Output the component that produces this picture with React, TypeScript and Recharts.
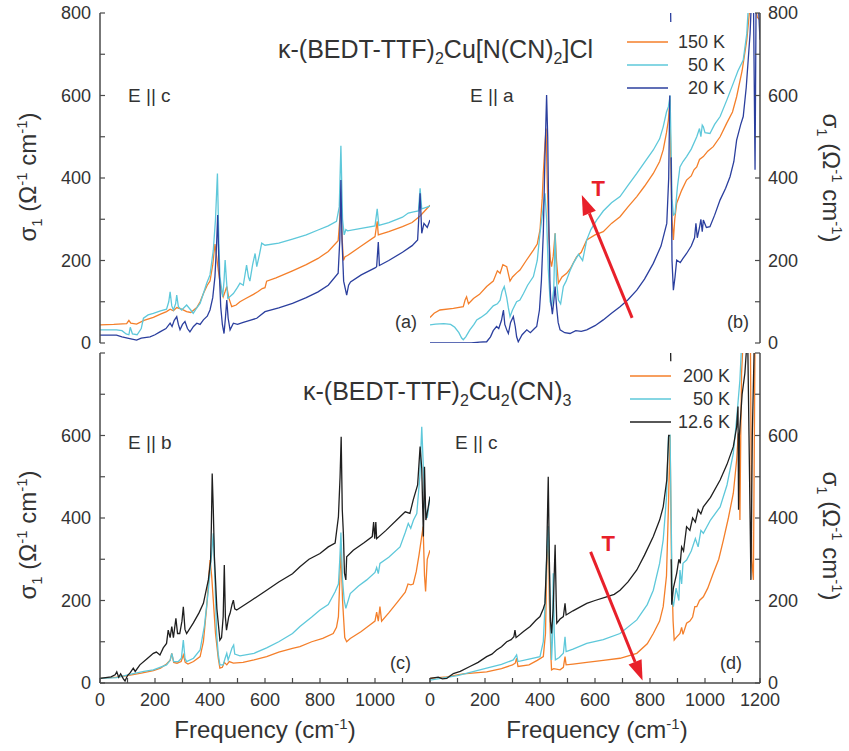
import { LineChart, Line, XAxis, YAxis, ReferenceLine, ReferenceDot } from "recharts";

type Pt = [number, number | null];

const FONT = '"Liberation Sans", Arial, sans-serif';
const INK = "#333";
const AXIS = "#4a4a4a";
const ORANGE = "#f47f2a";
const CYAN = "#5ec8da";
const BLUE = "#2b3f9e";
const BLACK = "#1f1f1f";
const RED = "#e8202a";

const xTicks = [0, 100, 200, 300, 400, 500, 600, 700, 800, 900, 1000, 1100, 1200];
const yTicks = [0, 100, 200, 300, 400, 500, 600, 700, 800];

// (a) Cl salt, E || c
const a150: Pt[] = [
  [0, 44], [50, 45], [97, 47], [105, 55], [112, 48], [133, 46], [160, 55], [194, 62], [220, 70], [242, 76],
  [255, 82], [267, 78], [279, 86], [297, 82], [315, 76], [330, 74], [352, 86], [364, 100], [376, 120], [390, 140],
  [400, 150], [410, 190], [418, 240], [424, 210], [430, 177], [440, 130], [448, 112], [455, 125], [461, 137], [468, 110],
  [479, 88], [495, 92], [509, 100], [530, 108], [558, 118], [575, 125], [590, 132], [600, 134], [606, 150], [640, 158],
  [700, 175], [750, 190], [793, 205], [830, 222], [866, 248], [872, 300], [876, 339], [880, 260], [885, 200], [891, 209],
  [900, 212], [950, 235], [1000, 258], [1008, 295], [1012, 262], [1050, 270], [1100, 282], [1135, 292], [1164, 308], [1200, 334],
];
const a50: Pt[] = [
  [0, 32], [60, 32], [80, 30], [95, 22], [105, 20], [110, 38], [118, 22], [135, 20], [150, 35], [158, 60],
  [175, 68], [194, 72], [220, 78], [242, 82], [250, 100], [255, 124], [261, 90], [267, 80], [275, 95], [279, 116],
  [285, 88], [297, 80], [315, 92], [330, 80], [339, 72], [352, 85], [364, 96], [376, 120], [388, 145], [400, 165],
  [412, 225], [420, 300], [427, 411], [432, 250], [436, 161], [446, 112], [451, 150], [455, 201], [460, 150], [465, 108],
  [485, 120], [500, 135], [509, 145], [521, 140], [533, 189], [540, 160], [545, 150], [555, 190], [564, 217], [570, 185],
  [580, 215], [588, 242], [600, 237], [650, 242], [700, 252], [750, 262], [793, 274], [830, 284], [860, 295], [870, 330],
  [876, 478], [882, 300], [888, 262], [894, 275], [900, 272], [950, 278], [1000, 284], [1008, 325], [1014, 285], [1050, 292],
  [1100, 305], [1121, 315], [1140, 318], [1158, 320], [1164, 375], [1170, 325], [1200, 332],
];
const a20: Pt[] = [
  [0, 19], [60, 19], [80, 15], [100, 12], [133, 7], [150, 12], [182, 15], [200, 20], [218, 27], [240, 35],
  [255, 48], [262, 40], [270, 55], [279, 64], [285, 45], [291, 32], [300, 45], [309, 52], [318, 35], [327, 27],
  [340, 40], [352, 48], [364, 45], [376, 56], [390, 65], [400, 80], [410, 110], [418, 161], [424, 240], [428, 310],
  [432, 200], [439, 88], [445, 45], [451, 23], [456, 60], [461, 104], [466, 60], [473, 32], [485, 48], [500, 45],
  [521, 50], [545, 55], [570, 60], [600, 76], [650, 85], [700, 96], [750, 110], [793, 124], [830, 140], [866, 169],
  [872, 250], [876, 395], [880, 250], [886, 150], [897, 116], [904, 140], [911, 148], [950, 165], [1000, 182], [1006, 185],
  [1012, 245], [1016, 188], [1050, 200], [1100, 220], [1135, 236], [1155, 250], [1164, 363], [1170, 266], [1178, 290], [1190, 280],
  [1200, 298],
];

// (b) Cl salt, E || a
const b150: Pt[] = [
  [0, 62], [15, 72], [36, 80], [85, 84], [121, 88], [128, 105], [133, 112], [140, 95], [158, 108], [180, 118],
  [206, 137], [230, 150], [245, 175], [255, 169], [265, 190], [279, 185], [291, 150], [300, 160], [315, 170], [327, 177],
  [350, 200], [376, 225], [390, 240], [400, 274], [408, 350], [412, 411], [418, 480], [422, 520], [426, 400], [432, 260],
  [438, 200], [442, 185], [448, 210], [455, 266], [460, 200], [467, 145], [480, 160], [497, 169], [510, 180], [533, 209],
  [550, 220], [570, 250], [600, 262], [630, 270], [660, 290], [691, 306], [720, 330], [752, 355], [780, 380], [812, 411],
  [835, 440], [848, 468], [860, 510], [867, 541], [872, 590], [876, 430], [880, 300], [885, 250], [890, 300], [897, 339],
  [915, 370], [933, 395], [950, 405], [960, 420], [970, 427], [980, 445], [994, 452], [1010, 465], [1030, 476], [1055, 500],
  [1079, 533], [1100, 560], [1115, 597], [1135, 660], [1152, 735], [1164, 820], [1180, 830], [1190, 790], [1200, 783],
];
const b50: Pt[] = [
  [0, 44], [20, 46], [50, 47], [75, 45], [90, 38], [105, 25], [115, 12], [121, 8], [130, 15], [145, 32],
  [160, 45], [170, 56], [185, 62], [206, 72], [230, 90], [245, 95], [255, 104], [262, 125], [270, 137], [279, 110],
  [285, 85], [291, 64], [300, 80], [315, 100], [327, 104], [340, 120], [355, 140], [376, 161], [390, 200], [400, 266],
  [410, 320], [418, 363], [424, 300], [430, 180], [437, 100], [442, 88], [450, 130], [455, 266], [460, 150], [467, 104],
  [475, 95], [485, 137], [495, 150], [509, 175], [521, 193], [540, 215], [555, 200], [570, 250], [585, 275], [606, 298],
  [630, 320], [660, 340], [691, 355], [720, 382], [752, 411], [780, 438], [812, 468], [835, 495], [848, 524], [860, 560],
  [867, 573], [873, 600], [876, 500], [880, 350], [885, 310], [891, 314], [900, 380], [909, 427], [920, 440], [933, 452],
  [950, 470], [970, 500], [980, 520], [985, 500], [990, 528], [994, 524], [1000, 510], [1018, 508], [1035, 530], [1055, 549],
  [1080, 590], [1103, 630], [1120, 660], [1139, 686], [1152, 750], [1158, 820], [1180, 820], [1200, 800],
];
const b20: Pt[] = [
  [0, 0], [100, 0], [150, 0], [180, 2], [206, 3], [220, 15], [230, 30], [242, 40], [250, 35], [260, 55],
  [267, 80], [272, 45], [280, 30], [285, 23], [293, 50], [303, 64], [310, 40], [315, 15], [321, 3], [335, 20],
  [352, 32], [365, 25], [380, 35], [388, 40], [398, 80], [405, 150], [412, 266], [418, 450], [424, 601], [428, 500],
  [432, 300], [436, 150], [439, 104], [445, 70], [450, 100], [455, 137], [460, 90], [466, 50], [473, 32], [490, 25],
  [509, 23], [530, 30], [550, 28], [570, 32], [600, 42], [630, 56], [660, 72], [691, 88], [720, 105], [752, 128],
  [780, 155], [812, 193], [840, 235], [861, 290], [868, 400], [872, 600], [874, null], [874.5, 830], [875.5, 778], [876, null],
  [877, 450], [880, 200], [885, 128], [891, 160], [897, 201], [910, 195], [920, 205], [933, 217], [950, 235], [962, 255],
  [967, 290], [972, 255], [980, 280], [985, 300], [990, 270], [994, 298], [1005, 280], [1018, 282], [1035, 310], [1055, 347],
  [1075, 375], [1091, 403], [1105, 440], [1115, 492], [1130, 530], [1139, 549], [1150, 620], [1164, 751], [1170, 850], [1176, 850],
  [1182, 420], [1186, 850], [1192, 850], [1200, 735],
];

// (c) Cu2(CN)3 salt, E || b
const c200: Pt[] = [
  [0, 11], [60, 14], [100, 18], [150, 24], [194, 30], [220, 36], [242, 46], [255, 55], [261, 72], [268, 50],
  [280, 48], [295, 52], [303, 68], [310, 50], [320, 46], [340, 52], [364, 64], [376, 100], [388, 185], [395, 250],
  [400, 298], [406, 260], [412, 201], [420, 120], [430, 60], [436, 36], [445, 38], [452, 50], [461, 44], [470, 52],
  [485, 48], [520, 50], [560, 56], [606, 64], [650, 75], [700, 84], [727, 88], [770, 100], [810, 108], [848, 120],
  [860, 135], [867, 161], [872, 250], [876, 330], [882, 200], [890, 110], [897, 100], [910, 108], [950, 125], [980, 140],
  [1000, 150], [1006, 172], [1012, 150], [1018, 185], [1024, 150], [1050, 170], [1080, 195], [1110, 220], [1120, 240], [1130, 238],
  [1139, 240], [1150, 270], [1160, 310], [1175, 379], [1180, 260], [1184, 222], [1190, 300], [1200, 322],
];
const c50: Pt[] = [
  [0, 11], [60, 13], [121, 23], [160, 28], [194, 32], [242, 44], [255, 55], [261, 72], [268, 52], [285, 52],
  [296, 60], [303, 104], [309, 60], [315, 52], [340, 60], [364, 80], [380, 140], [394, 225], [406, 314], [412, 363],
  [418, 250], [424, 120], [430, 70], [436, 44], [448, 44], [455, 60], [461, 72], [466, 56], [473, 70], [480, 85],
  [486, 92], [490, 70], [509, 66], [560, 72], [606, 85], [650, 100], [700, 120], [727, 137], [770, 160], [800, 177],
  [830, 190], [855, 221], [867, 240], [872, 300], [876, 365], [882, 250], [888, 200], [894, 181], [910, 217], [940, 235],
  [970, 250], [1000, 268], [1006, 280], [1012, 265], [1018, 290], [1050, 305], [1091, 330], [1110, 365], [1121, 387], [1130, 375],
  [1140, 395], [1152, 411], [1163, 500], [1170, 621], [1176, 520], [1182, 427], [1190, 400], [1200, 452],
];
const c12: Pt[] = [
  [0, 11], [40, 15], [55, 20], [61, 27], [68, 14], [75, 22], [85, 10], [91, 5], [100, 18], [110, 25],
  [121, 36], [128, 28], [145, 44], [170, 58], [194, 72], [205, 75], [218, 68], [230, 85], [242, 96], [248, 128],
  [255, 110], [261, 137], [267, 110], [276, 157], [282, 120], [290, 120], [298, 150], [303, 185], [309, 130], [315, 120],
  [339, 145], [360, 170], [376, 193], [394, 250], [402, 294], [405, 380], [408, 508], [412, 420], [416, 306], [425, 180],
  [436, 104], [442, 110], [448, 161], [452, 286], [456, 160], [460, 128], [468, 160], [473, 169], [480, 190], [485, 201],
  [490, 180], [497, 177], [550, 200], [606, 225], [650, 245], [700, 265], [727, 282], [760, 300], [800, 314], [830, 330],
  [855, 339], [867, 403], [873, 500], [877, 597], [881, 420], [885, 363], [889, 266], [894, 250], [897, 306], [921, 322],
  [960, 340], [990, 355], [995, 390], [999, 350], [1003, 390], [1006, 350], [1040, 370], [1091, 403], [1110, 415], [1127, 411],
  [1139, 444], [1155, 480], [1164, 573], [1170, 520], [1176, 355], [1180, 524], [1185, 395], [1192, 420], [1200, 452],
];

// (d) Cu2(CN)3 salt, E || c
const d200: Pt[] = [
  [0, 11], [60, 15], [121, 22], [206, 27], [260, 35], [300, 44], [310, 48], [315, 60], [320, 40], [360, 44],
  [390, 55], [412, 64], [420, 120], [424, 266], [430, 380], [434, 200], [440, 60], [442, 32], [450, 35], [473, 32],
  [485, 38], [491, 64], [495, 44], [520, 46], [570, 50], [630, 55], [691, 60], [752, 72], [790, 95], [812, 120],
  [835, 150], [848, 185], [860, 260], [867, 427], [873, 601], [878, 300], [884, 150], [888, 104], [895, 110], [909, 120],
  [915, 135], [920, 118], [933, 145], [945, 150], [955, 160], [963, 185], [970, 185], [980, 200], [994, 209], [1010, 230],
  [1030, 266], [1050, 300], [1067, 347], [1085, 400], [1103, 460], [1115, 540], [1121, 605], [1125, 500], [1127, 395], [1130, 600],
  [1133, 751], [1140, 850], [1165, 850], [1170, 300], [1176, 250], [1182, 850], [1200, 850],
];
const d50: Pt[] = [
  [0, 7], [100, 18], [206, 36], [260, 45], [303, 56], [315, 68], [320, 52], [360, 58], [400, 64], [412, 100],
  [418, 185], [424, 300], [430, 380], [435, 250], [440, 100], [442, 56], [445, 100], [448, 266], [452, 120], [456, 56],
  [470, 62], [485, 72], [491, 112], [495, 76], [520, 82], [570, 96], [630, 105], [691, 120], [752, 153], [790, 190],
  [812, 225], [835, 290], [848, 347], [860, 450], [867, 597], [873, 600], [877, 400], [881, 200], [885, 185], [895, 230],
  [905, 200], [909, 274], [915, 240], [920, 290], [933, 298], [950, 320], [965, 350], [975, 330], [985, 370], [994, 363],
  [1020, 395], [1055, 427], [1080, 480], [1103, 557], [1115, 640], [1127, 735], [1135, 850], [1200, 850],
];
const d12: Pt[] = [
  [0, 11], [30, 14], [45, 10], [61, 11], [75, 18], [85, 23], [110, 28], [145, 40], [175, 50], [206, 64],
  [225, 70], [242, 80], [260, 88], [279, 100], [295, 105], [305, 112], [309, 128], [313, 110], [340, 125], [364, 137],
  [385, 152], [400, 161], [412, 180], [418, 193], [424, 300], [430, 500], [434, 300], [438, 150], [442, 120], [448, 180],
  [455, 335], [459, 200], [461, 145], [473, 155], [485, 161], [491, 193], [495, 165], [520, 175], [570, 193], [600, 200],
  [642, 209], [670, 215], [691, 225], [720, 245], [752, 274], [780, 310], [812, 355], [835, 395], [848, 427], [861, 492],
  [868, 600], [872, 600], [874, null], [874.5, 830], [875.5, 780], [876, null], [877, 300], [879, 190], [885, 230], [897, 266],
  [905, 300], [910, 290], [915, 330], [922, 320], [933, 379], [945, 370], [955, 400], [965, 390], [975, 420], [985, 410],
  [994, 427], [1020, 450], [1055, 492], [1080, 530], [1103, 573], [1115, 620], [1120, 670], [1122, 420], [1125, 600], [1135, 700],
  [1145, 751], [1155, 850], [1160, 600], [1164, 400], [1167, 250], [1172, 600], [1180, 850], [1200, 850],
];

const topNames = ["150 K", "50 K", "20 K"];
const botNames = ["200 K", "50 K", "12.6 K"];

const rows = (pts: Pt[]) => pts.map(([x, y]) => ({ x, y }));

const Arrow = (p: any) => {
  const { x1, y1, x2, y2 } = p;
  const len = Math.hypot(x2 - x1, y2 - y1);
  const ux = (x2 - x1) / len;
  const uy = (y2 - y1) / len;
  const bx = x2 - ux * 20;
  const by = y2 - uy * 20;
  const pts = `${x2},${y2} ${bx - uy * 7},${by + ux * 7} ${bx + uy * 7},${by - ux * 7}`;
  return (
    <g>
      <line x1={x1} y1={y1} x2={bx} y2={by} stroke={RED} strokeWidth={3} />
      <polygon points={pts} fill={RED} />
    </g>
  );
};

const TMark = (p: any) => (
  <text x={p.cx} y={p.cy} textAnchor="middle" dominantBaseline="central" fill={RED}
    fontSize={22} fontWeight="bold" fontFamily={FONT}>T</text>
);

// only draw the labelled ticks' text, skip the minor ones
const makeTick = (show: (v: number) => boolean) => (p: any) => {
  const v = p.payload?.value;
  if (!show(v)) return <g />;
  return (
    <text x={p.x} y={p.y} textAnchor={p.textAnchor} fill={INK} fontSize={18} fontFamily={FONT}
      dy={p.verticalAnchor === "start" ? "0.71em" : "0.355em"}>{v}</text>
  );
};

interface PanelProps {
  left: number;
  top: number;
  side: "left" | "right";
  lines: { pts: Pt[]; color: string }[];
  yMax: number;
  xLabels: boolean;
  arrow?: [number, number, number, number];
  tAt?: [number, number];
}

function Panel({ left, top, side, lines, yMax, xLabels, arrow, tAt }: PanelProps) {
  const isLeft = side === "left";
  const w = isLeft ? 440 : 420;
  const h = xLabels ? 395 : 360;
  const axisLine = { stroke: AXIS, strokeWidth: 1.5 };
  const tickLine = { stroke: AXIS, strokeWidth: 1.2 };
  const none = () => <g />;
  return (
    <div style={{ position: "absolute", left, top }}>
      <LineChart width={w} height={h}
        margin={{ top: 13, right: 10, bottom: xLabels ? 22 : 17, left: isLeft ? 0 : 10 }}>
        <XAxis xAxisId="x" type="number" dataKey="x" domain={[0, 1200]} ticks={xTicks} interval={0}
          allowDataOverflow height={xLabels ? 30 : 0} tickSize={-5} tickMargin={15}
          axisLine={axisLine} tickLine={tickLine}
          tick={makeTick((v) => xLabels && v % 200 === 0 && !(isLeft && v === 1200))} />
        <XAxis xAxisId="xt" orientation="top" type="number" domain={[0, 1200]} ticks={xTicks} interval={0}
          allowDataOverflow height={0} tickSize={-5} axisLine={axisLine} tickLine={tickLine} tick={none} />
        <YAxis yAxisId="y" orientation={side} type="number" domain={[0, 800]} ticks={yTicks} interval={0}
          allowDataOverflow width={isLeft ? 100 : 70} tickSize={-5} tickMargin={isLeft ? 14 : 13}
          axisLine={axisLine} tickLine={tickLine}
          tick={makeTick((v) => v % 200 === 0 && v <= yMax)} />
        <YAxis yAxisId="yo" orientation={isLeft ? "right" : "left"} type="number" domain={[0, 800]} ticks={yTicks}
          interval={0} allowDataOverflow width={0} tickSize={-5} axisLine={axisLine} tickLine={tickLine} tick={none} />
        {lines.map((l, i) => (
          <Line key={i} xAxisId="x" yAxisId="y" data={rows(l.pts)} dataKey="y" type="linear" stroke={l.color}
            strokeWidth={1.3} dot={false} connectNulls={false} isAnimationActive={false} />
        ))}
        {arrow && (
          <ReferenceLine xAxisId="x" yAxisId="y"
            segment={[{ x: arrow[0], y: arrow[1] }, { x: arrow[2], y: arrow[3] }]} shape={Arrow} />
        )}
        {tAt && <ReferenceDot xAxisId="x" yAxisId="y" x={tAt[0]} y={tAt[1]} r={0} shape={TMark} />}
      </LineChart>
    </div>
  );
}

function YTitle({ x, y, rot }: { x: number; y: number; rot: number }) {
  return (
    <text transform={`translate(${x},${y}) rotate(${rot})`} textAnchor="middle" fontSize={24} fill={INK} fontFamily={FONT}>
      σ<tspan dy={6} fontSize={15}>1</tspan>
      <tspan dy={-6}> (Ω</tspan>
      <tspan dy={-9} fontSize={15}>-1</tspan>
      <tspan dy={9}> cm</tspan>
      <tspan dy={-9} fontSize={15}>-1</tspan>
      <tspan dy={9}>)</tspan>
    </text>
  );
}

function XTitle({ x }: { x: number }) {
  return (
    <text x={x} y={738} textAnchor="middle" fontSize={24} fill={INK} fontFamily={FONT}>
      Frequency (cm<tspan dy={-9} fontSize={15}>-1</tspan>
      <tspan dy={9}>)</tspan>
    </text>
  );
}

function LegendBox({ x, y, names, colors, right }: { x: number; y: number; names: string[]; colors: string[]; right: number }) {
  return (
    <g fontFamily={FONT} fontSize={18} fill={INK}>
      {names.map((n, i) => (
        <g key={n}>
          <line x1={x} x2={x + 41} y1={y + i * 23} y2={y + i * 23} stroke={colors[i]} strokeWidth={1.5} />
          <text x={right} y={y + i * 23 + 6} textAnchor="end">{n}</text>
        </g>
      ))}
    </g>
  );
}

export default function App() {
  return (
    <div style={{ position: "absolute", left: 0, top: 0, width: 849, height: 751, background: "#fff" }}>
      <Panel left={0} top={0} side="left" yMax={800} xLabels={false}
        lines={[{ pts: a150, color: ORANGE }, { pts: a50, color: CYAN }, { pts: a20, color: BLUE }]} />
      <Panel left={420} top={0} side="right" yMax={800} xLabels={false}
        lines={[{ pts: b150, color: ORANGE }, { pts: b50, color: CYAN }, { pts: b20, color: BLUE }]}
        arrow={[735, 61, 552, 359]} tAt={[612, 374]} />
      <Panel left={0} top={340} side="left" yMax={600} xLabels
        lines={[{ pts: c200, color: ORANGE }, { pts: c50, color: CYAN }, { pts: c12, color: BLACK }]} />
      <Panel left={420} top={340} side="right" yMax={600} xLabels
        lines={[{ pts: d200, color: ORANGE }, { pts: d50, color: CYAN }, { pts: d12, color: BLACK }]}
        arrow={[584, 318, 773, 6]} tAt={[648, 337]} />
      <svg width={849} height={751} style={{ position: "absolute", left: 0, top: 0, pointerEvents: "none" }}>
        <g fontFamily={FONT} fill={INK}>
          <text x={278} y={58} fontSize={25}>
            κ-(BEDT-TTF)<tspan dy={6} fontSize={16}>2</tspan>
            <tspan dy={-6}>Cu[N(CN)</tspan>
            <tspan dy={6} fontSize={16}>2</tspan>
            <tspan dy={-6}>]Cl</tspan>
          </text>
          <text x={303} y={400} fontSize={25}>
            κ-(BEDT-TTF)<tspan dy={6} fontSize={16}>2</tspan>
            <tspan dy={-6}>Cu</tspan>
            <tspan dy={6} fontSize={16}>2</tspan>
            <tspan dy={-6}>(CN)</tspan>
            <tspan dy={6} fontSize={16}>3</tspan>
          </text>
          <text x={128} y={102} fontSize={19}>E || c</text>
          <text x={470} y={102} fontSize={19}>E || a</text>
          <text x={128} y={449} fontSize={19}>E || b</text>
          <text x={455} y={449} fontSize={19}>E || c</text>
          <text x={395} y={328} fontSize={18}>(a)</text>
          <text x={727} y={328} fontSize={18}>(b)</text>
          <text x={390} y={669} fontSize={18}>(c)</text>
          <text x={720} y={669} fontSize={18}>(d)</text>
        </g>
        <YTitle x={36} y={177} rot={-90} />
        <YTitle x={36} y={535} rot={-90} />
        <YTitle x={823} y={178} rot={90} />
        <YTitle x={823} y={536} rot={90} />
        <XTitle x={265} />
        <XTitle x={597} />
        <LegendBox x={627} y={42} right={725} names={topNames} colors={[ORANGE, CYAN, BLUE]} />
        <LegendBox x={630} y={376} right={730} names={botNames} colors={[ORANGE, CYAN, BLACK]} />
      </svg>
    </div>
  );
}
